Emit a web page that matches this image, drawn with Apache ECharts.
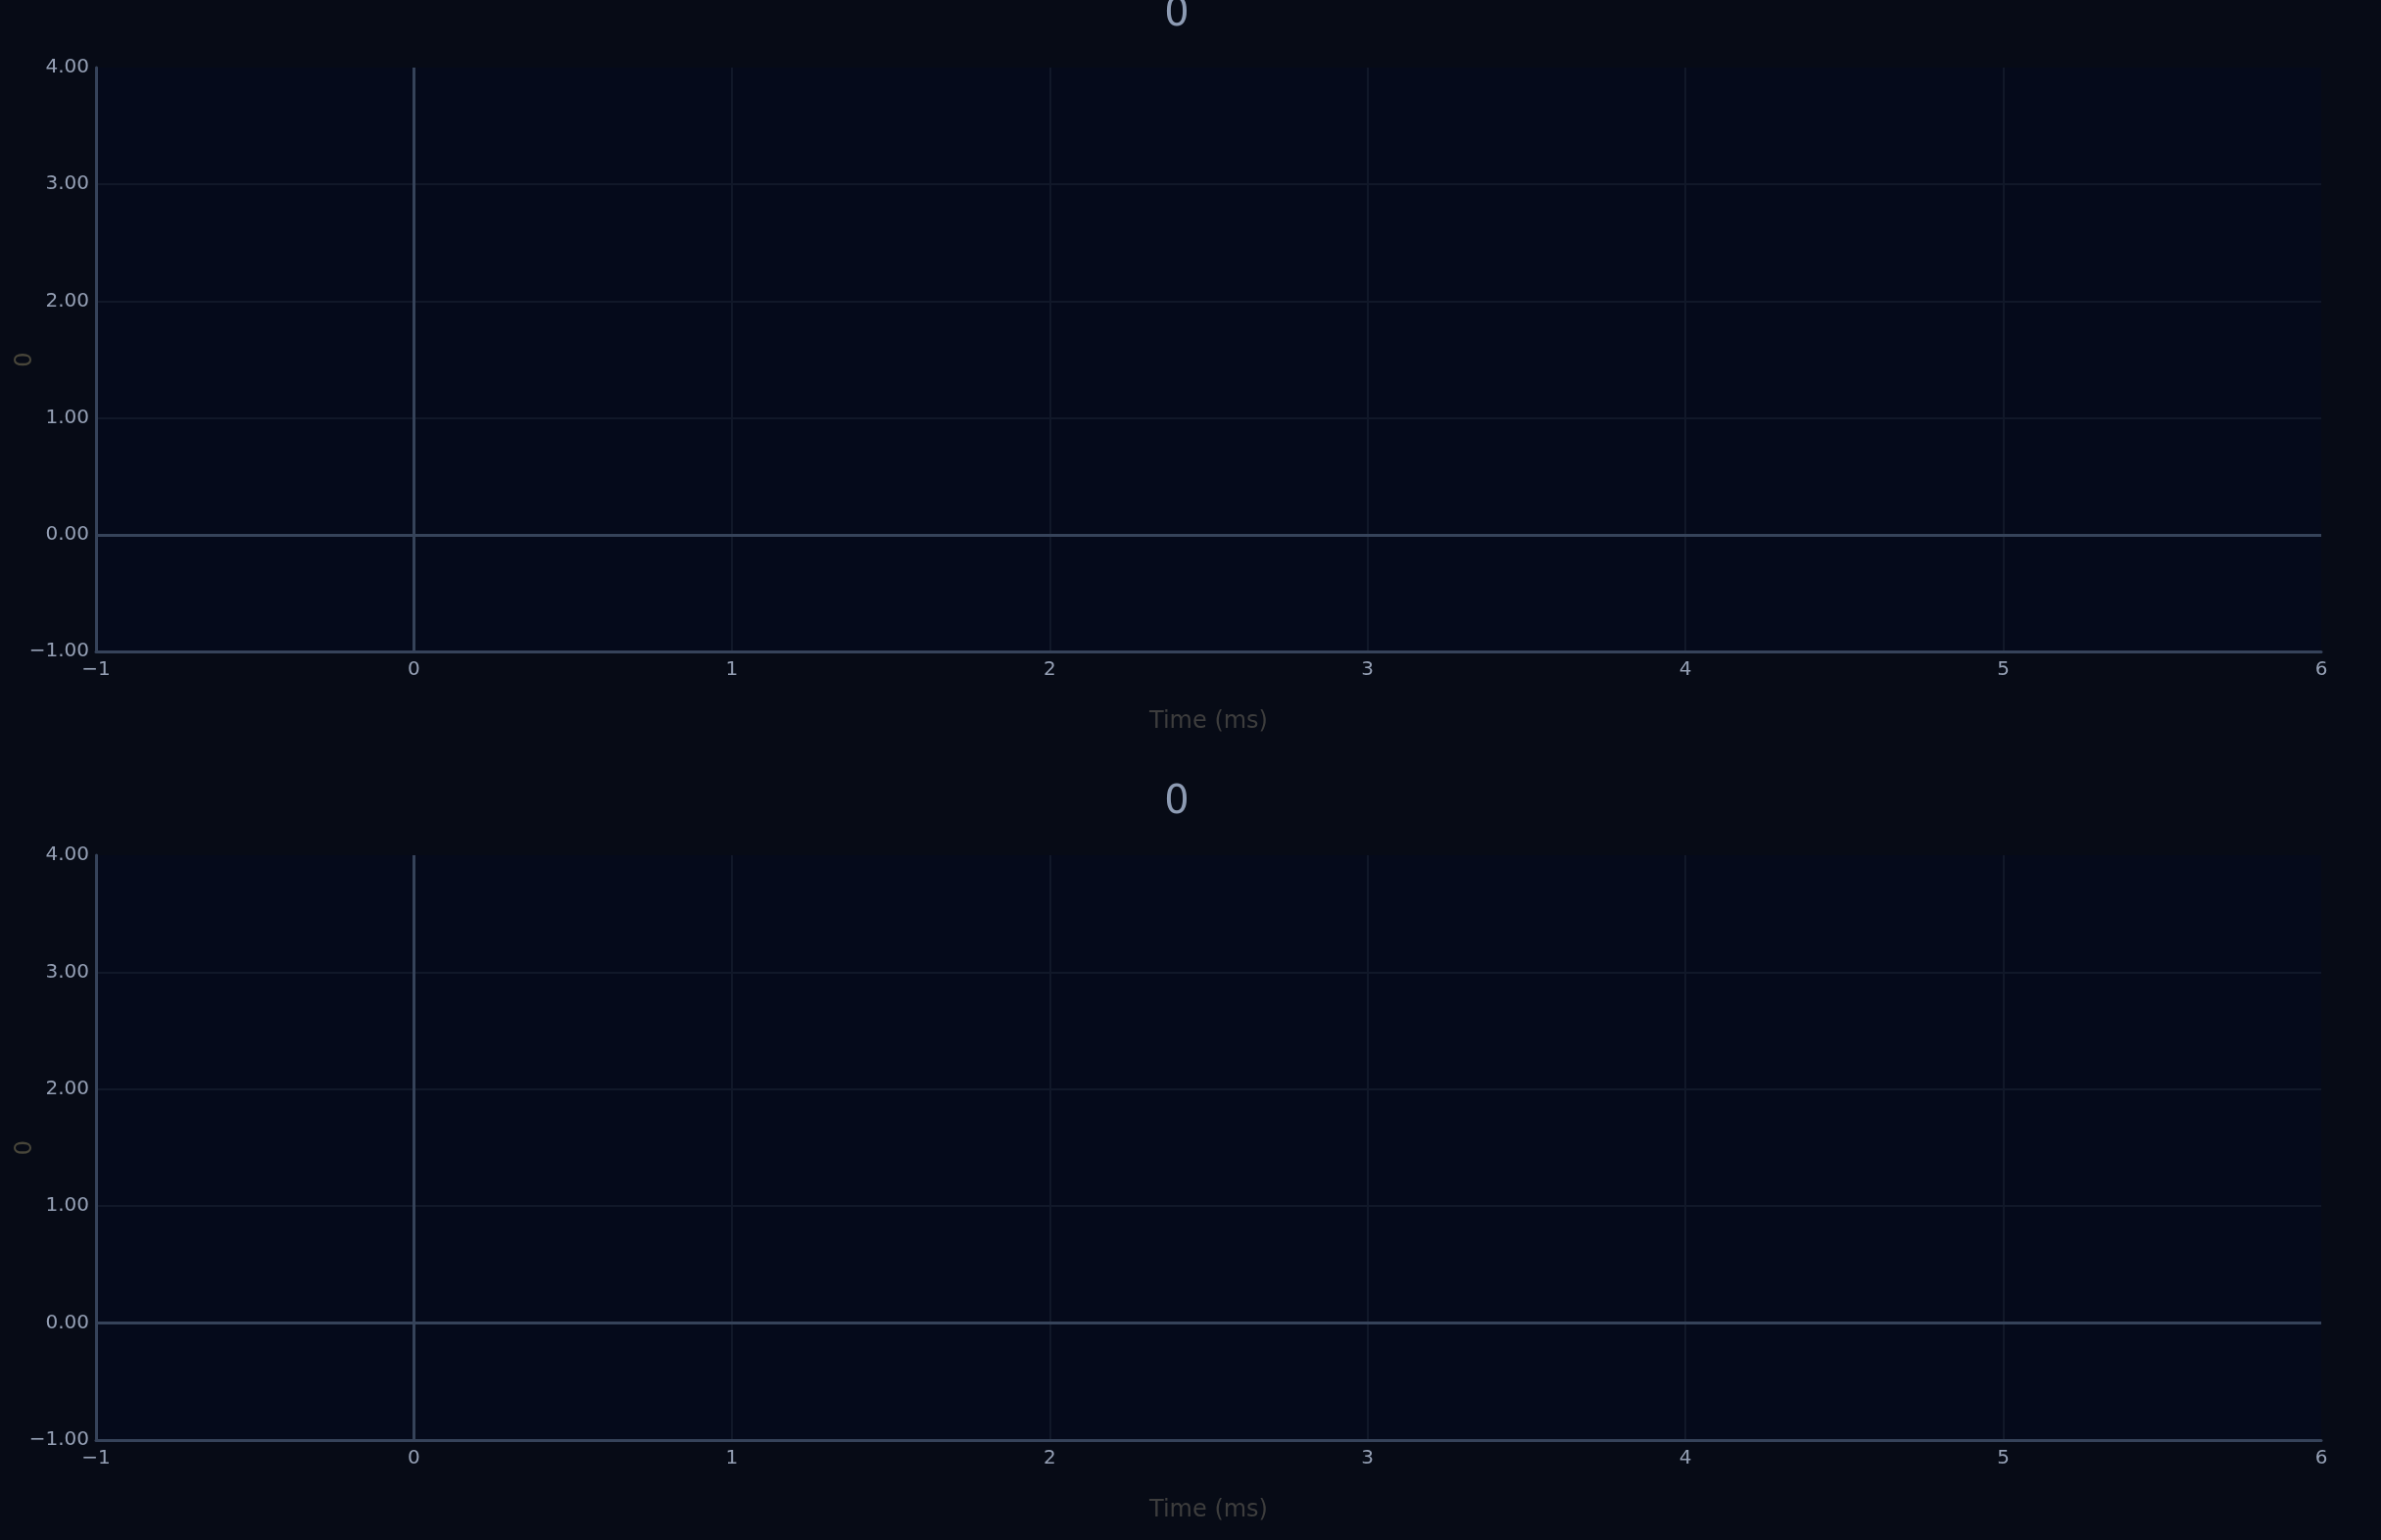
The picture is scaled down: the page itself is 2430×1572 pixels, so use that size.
<!DOCTYPE html>
<html>
<head>
<meta charset="utf-8">
<script src="https://cdn.jsdelivr.net/npm/echarts@6/dist/echarts.min.js"></script>
<style>
html,body{margin:0;padding:0;background:#070b16;}
#c{width:2430px;height:1572px;}
</style>
</head>
<body>
<div id="c"></div>
<script>
// ---- data ----
const panelTitles = ['0', '0'];
const yAxisNames = ['0', '0'];
const xAxisName = 'Time (ms)';
const xRange = [-1, 6];
const yRange = [-1, 4];
const topSeries = [];     // no data points in the reference
const bottomSeries = [];  // no data points in the reference
const zeroLines = { x: 0, y: 0 };

// ---- styles ----
const FONT = 'DejaVu Sans';
const AXIS_COLOR = '#36435a';
const GRID_COLOR = '#111829';
const TICK_COLOR = '#95a0b5';
const PLOT_BG = '#050a1b';

function minus(v, digits) {
  const s = digits == null ? String(Math.abs(v)) : Math.abs(v).toFixed(digits);
  return (v < 0 ? '\u2212' : '') + s;
}

const grids = [
  { left: 98, right: 61, top: 69, height: 596, show: true, backgroundColor: PLOT_BG, borderWidth: 0,
    containLabel: false, outerBoundsMode: 'none' },
  { left: 98, right: 61, top: 873, height: 597, show: true, backgroundColor: PLOT_BG, borderWidth: 0,
    containLabel: false, outerBoundsMode: 'none' }
];

function xAxisFor(i) {
  return {
    type: 'value', gridIndex: i, min: xRange[0], max: xRange[1], interval: 1,
    name: xAxisName, nameLocation: 'middle', nameGap: 60, nameMoveOverlap: false,
    nameTextStyle: { color: '#3d3d3d', fontFamily: FONT, fontSize: 24 },
    axisLine: { show: true, onZero: false, lineStyle: { color: AXIS_COLOR, width: 3 } },
    axisTick: { show: false },
    axisLabel: { color: TICK_COLOR, fontFamily: FONT, fontSize: 20, margin: 9,
      formatter: v => minus(v) },
    splitLine: { show: true, showMinLine: false, showMaxLine: false,
      lineStyle: { color: GRID_COLOR, width: 2 } }
  };
}
function yAxisFor(i) {
  return {
    type: 'value', gridIndex: i, min: yRange[0], max: yRange[1], interval: 1,
    name: yAxisNames[i], nameLocation: 'middle', nameGap: 60, nameMoveOverlap: false,
    nameTextStyle: { color: '#48463a', fontFamily: FONT, fontSize: 24 },
    axisLine: { show: true, onZero: false, lineStyle: { color: AXIS_COLOR, width: 3 } },
    axisTick: { show: false },
    axisLabel: { color: TICK_COLOR, fontFamily: FONT, fontSize: 20, margin: 7,
      formatter: v => minus(v, 2) },
    splitLine: { show: true, showMinLine: false, showMaxLine: false,
      lineStyle: { color: GRID_COLOR, width: 2 } }
  };
}

function seriesFor(i, data) {
  return {
    type: 'line', xAxisIndex: i, yAxisIndex: i, data: data, showSymbol: false,
    markLine: {
      silent: true, symbol: 'none', animation: false,
      label: { show: false },
      lineStyle: { color: AXIS_COLOR, width: 3, type: 'solid' },
      data: [{ xAxis: zeroLines.x }, { yAxis: zeroLines.y }]
    }
  };
}

const chart = echarts.init(document.getElementById('c'), null, { renderer: 'canvas' });
chart.setOption({
  backgroundColor: '#070b16',
  animation: false,
  title: [
    { text: panelTitles[0], left: 1196, top: -9, textAlign: 'center',
      textStyle: { color: '#8d9bb3', fontFamily: FONT, fontSize: 40, fontWeight: 'normal' } },
    { text: panelTitles[1], left: 1196, top: 795, textAlign: 'center',
      textStyle: { color: '#8d9bb3', fontFamily: FONT, fontSize: 40, fontWeight: 'normal' } }
  ],
  grid: grids,
  xAxis: [xAxisFor(0), xAxisFor(1)],
  yAxis: [yAxisFor(0), yAxisFor(1)],
  series: [seriesFor(0, topSeries), seriesFor(1, bottomSeries)]
});
</script>
</body>
</html>
